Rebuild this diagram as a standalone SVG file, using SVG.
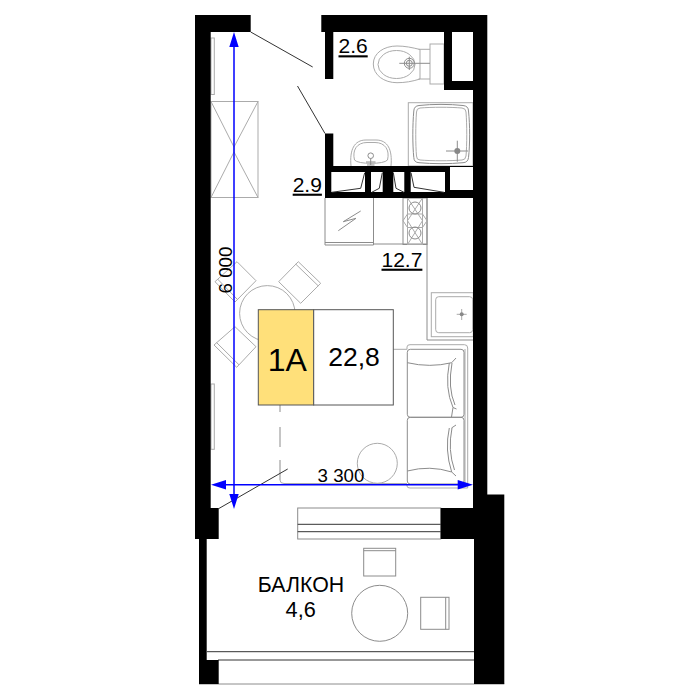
<svg xmlns="http://www.w3.org/2000/svg" width="700" height="700" viewBox="0 0 700 700">
<style>
text{font-family:"Liberation Sans",Arial,sans-serif;fill:#000}
.f{fill:none;stroke:#ababab;stroke-width:1}
.d{fill:none;stroke:#8c8c8c;stroke-width:1}
.k{fill:none;stroke:#333;stroke-width:1}
.w{fill:#000}
.u{font-size:21px;text-decoration:underline}
.dim{fill:none;stroke:#0000ff;stroke-width:1.5}
.ah{fill:#0000ff}
</style>
<rect width="700" height="700" fill="#fff"/>
<g id="furniture">
<rect class="f" x="211" y="38" width="3.3" height="56.5"/>
<rect class="f" x="211" y="384" width="3.3" height="65.3"/>
<rect class="f" x="211" y="101.5" width="47" height="96"/>
<path class="f" d="M211 101.5L234 147L258 101.5M211 197.5L234 152L258 197.5M234 147L234 152"/>
<path class="d" d="M325 198V245H373.5V198M325 242.5H373.5M373.5 244H427M427 198V340H473"/>
<path class="d" d="M360.7 211L343.3 221.7L356 218.3L338.3 230.7"/>
<rect class="d" x="403" y="198" width="24" height="46.5"/>
<rect class="f" x="407.5" y="198" width="15" height="46.5"/>
<path class="f" d="M407.5 198L422.5 220.7L407.5 244.5M422.5 198L407.5 220.7L422.5 244.5M403 220.7L407.5 214L422.5 214L427 220.7L422.5 227.5L407.5 227.5Z"/>
<circle class="d" cx="415" cy="208" r="6"/><circle class="d" cx="415" cy="233" r="6"/>
<rect class="f" x="431.3" y="292.7" width="42" height="44"/>
<rect class="f" x="435.7" y="296.7" width="37" height="36" rx="3"/>
<path class="f" d="M456.7 314.3H466.7M461.7 309V320"/><circle cx="461.7" cy="314.3" r="2" fill="#888"/>
<rect class="f" x="430" y="44" width="14" height="40"/>
<path class="f" d="M430 49.3H418.5M430 79H418.5"/>
<path class="f" d="M373.3 64C373.3 53 384 46 397 46C405 46 412 47.5 420 49.5V79C412 81.5 405 82.7 397 82.7C384 82.7 373.3 75 373.3 64Z"/>
<ellipse class="f" cx="396.5" cy="64.5" rx="18.5" ry="14"/>
<path class="d" d="M399.3 63.3H430M409.3 56.7V70"/>
<circle class="d" cx="409.3" cy="63.3" r="5"/><circle class="d" cx="409.3" cy="63.3" r="3"/>
<rect class="f" x="408.3" y="102.7" width="64.7" height="63.3"/>
<path class="d" d="M419 105.5C432 104 450 104 463 105.5Q468.5 106 468.5 111C470 125 470 145 468.5 157.5Q468 162.5 463 162.7C450 164 432 164 419 162.7Q414 162.5 413.8 157.5C412.5 145 412.5 125 413.8 111Q414 106 419 105.5Z"/>
<path class="f" d="M420 108C432 107 450 107 462 108Q466 108.5 466 112C467 125 467 145 466 156Q465.5 160 462 160C450 161 432 161 420 160Q416.5 160 416.5 156C415.5 145 415.5 125 416.5 112Q416.5 108.5 420 108Z"/>
<path class="d" d="M446 151H468M457.3 140.7V161.7"/><circle cx="457.3" cy="151" r="3" fill="#888"/>
<path class="f" d="M351 166C349.5 150 354 140 366 140H376C388 140 392.5 150 391 166"/>
<path class="f" d="M354.5 160C352 150 357 142.5 367 142.5H375C385 142.5 390 150 387.5 160C384 164.5 358 164.500 354.500 160Z"/>
<circle class="d" cx="370.7" cy="155.7" r="2.8"/><path class="d" d="M370.7 158.5V165M366 162H375.5M367 165H374.5"/>
<circle class="f" cx="267.3" cy="313.3" r="27.7"/>
<path class="f" d="M298.3 261.7L320.7 283.3L300.7 303.3L278.7 281.7ZM295.8 264.2L318.2 285.8"/>
<path class="f" d="M237 261.7L256 280.7L235 302L215 281.7ZM217.5 279L237.5 299.5"/>
<path class="f" d="M235 326.7L256 346.7L236.7 367.3L214 345ZM216.5 342.5L239 364.8"/>
<path class="f" d="M393 349.3H407.3"/>
<path class="f" d="M407 349V347Q407 344.7 410 344.7H464.5Q467.7 344.7 467.7 348V488M465 349V486M407 484V486Q407 488 410 488H467.7"/>
<rect class="d" x="407.3" y="349.3" width="56.7" height="68" rx="3"/>
<rect class="d" x="407.3" y="417.3" width="56.7" height="66.7" rx="3"/>
<path class="d" d="M407.3 362.7Q430 368 451.7 362.7L456 358M407.3 471Q430 465 451.7 472L456 476"/>
<path class="d" d="M449.3 363Q444.5 388 453 407.5L456.5 409M452 363Q447.5 388 455 405M449.3 428Q444.5 450 451.7 472M451.5 428L456 425M452 428Q447.5 450 454.5 470M453 407.5L451.5 417"/>
<circle class="f" cx="377.3" cy="463.3" r="20"/>
<path class="d" d="M280 405V412M280 427V447M280 460V480" stroke-width="1.2"/>
<path class="f" d="M280 480Q280 483.5 284 483.5H407"/>
<rect class="d" x="297.7" y="508" width="143" height="31"/>
<path class="k" d="M297.7 524.3H440.7M297.7 531.7H440.7"/>
<path class="k" d="M207 651.7H474M218 660H474"/>
<path class="d" d="M199 684H504.3"/>
<rect class="d" x="363.7" y="548.3" width="32" height="27.7"/>
<path class="d" d="M363.7 550.7H395.7"/>
<circle class="d" cx="379.7" cy="613.3" r="28"/>
<rect class="d" x="420.7" y="597.3" width="28.3" height="32"/>
<path class="d" d="M445.7 597.3V629.3"/>
</g>
<g id="walls">
<path class="w" d="M195 15H250.7V32H210.7V508H218.7V539H206.7V660H218.7V684H199V539H195Z"/>
<path class="w" fill-rule="evenodd" d="M321.3 15H487.3V494.5H504.3V684H474V539H440.7V508H473V90H444V32H333.3V79H325V32H321.3ZM452 32V81H473V32Z"/>
<path class="w" fill-rule="evenodd" d="M325 133.5H333.3V166H473V198H325ZM331.3 172V192H365V172ZM371 172V192H382.7V172ZM393.3 172V192H404.3V172ZM410.7 172V192H445V172ZM450 167V190H473V167Z"/>
<path class="k" d="M364.7 172.7L360.7 188.3L331.7 192.3M382.3 172.7L379.3 188.3L371.7 192.3M393.3 172.7L396 188.3L404 192.3M411 172.7L414 187.3L444 192.3"/>
</g>
<g id="connectors">
<path class="k" d="M250.7 32L312.7 67M297.5 86L325 133.5M218 509L287.7 469"/>
<path class="dim" d="M234 40V500M218 484.7H465"/>
<path class="ah" d="M234 32L238.7 47H229.3ZM234 509L229.3 494H238.7ZM211 484.7L226 480V489.4ZM473 484.7L457.7 480V489.4Z"/>
</g>
<g id="label-1A">
<rect x="258.3" y="309.7" width="55.4" height="95.3" fill="#ffe07a" stroke="#555" stroke-width="1"/>
<rect x="313.7" y="309.7" width="79.6" height="95.3" fill="#fff" stroke="#555" stroke-width="1"/>
<text x="287.3" y="371" font-size="32" text-anchor="middle">1A</text>
<text x="354" y="366" font-size="26.5" text-anchor="middle">22,8</text>
</g>
<g id="labels">
<text class="u" x="338.5" y="53.3">2.6</text>
<text class="u" x="292.7" y="191.7">2.9</text>
<text class="u" x="381.5" y="266.7">12.7</text>
<text x="231.7" y="270" font-size="18.7" text-anchor="middle" transform="rotate(-90 231.7 270)">6 000</text>
<text x="341" y="481.7" font-size="18.7" text-anchor="middle">3 300</text>
<text x="301" y="592.3" font-size="21.3" text-anchor="middle">БАЛКОН</text>
<text x="300.7" y="616.7" font-size="21.7" text-anchor="middle">4,6</text>
</g>
</svg>
